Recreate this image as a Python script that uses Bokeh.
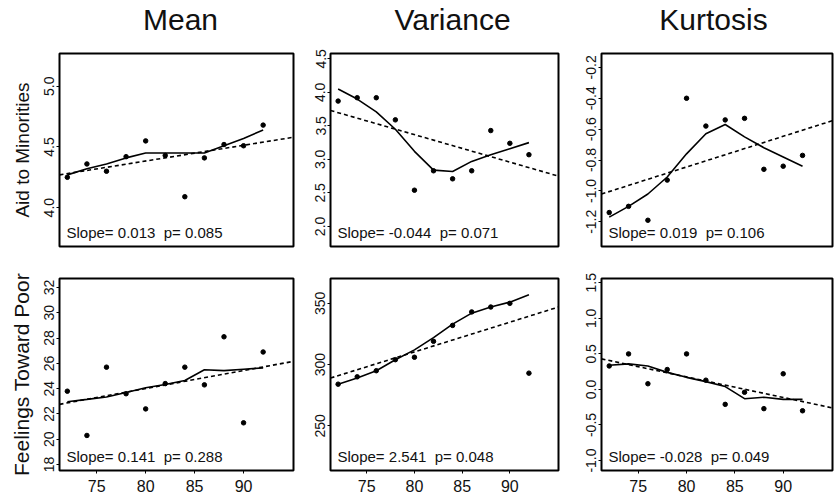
from bokeh.plotting import figure
from bokeh.layouts import column, row
from bokeh.models import Range1d, FixedTicker, PrintfTickFormatter, Label
from bokeh.embed import file_html
from bokeh.resources import INLINE
from bokeh.core.properties import value

# ---------------- data ----------------
years = [72, 74, 76, 78, 80, 82, 84, 86, 88, 90, 92]
col_titles = ["Mean", "Variance", "Kurtosis"]
row_titles = ["Aid to Minorities", "Feelings Toward Poor"]
x_ticks = [75, 80, 85, 90]
x_limits = [71.2, 95.1]

# Aid to Minorities
aid_mean = [4.25, 4.36, 4.30, 4.42, 4.55, 4.43, 4.09, 4.41, 4.52, 4.51, 4.68]
aid_mean_smooth = [4.27, 4.32, 4.36, 4.41, 4.45, 4.45, 4.45, 4.45, 4.51, 4.57, 4.64]
aid_mean_fit = [4.27, 4.58]
aid_var = [3.87, 3.92, 3.92, 3.59, 2.54, 2.83, 2.71, 2.83, 3.43, 3.24, 3.07]
aid_var_smooth = [4.05, 3.90, 3.71, 3.45, 3.12, 2.84, 2.82, 2.97, 3.07, 3.16, 3.25]
aid_var_fit = [3.73, 2.75]
aid_kurt = [-1.14, -1.10, -1.19, -0.93, -0.40, -0.58, -0.54, -0.53, -0.86, -0.84, -0.77]
aid_kurt_smooth = [-1.17, -1.10, -1.02, -0.91, -0.76, -0.63, -0.57, -0.65, -0.72, -0.78, -0.84]
aid_kurt_fit = [-1.02, -0.545]

# Feelings Toward Poor
poor_mean = [23.8, 20.3, 25.7, 23.6, 22.4, 24.4, 25.7, 24.3, 28.1, 21.3, 26.9]
poor_mean_smooth = [22.97, 23.15, 23.34, 23.70, 24.07, 24.33, 24.65, 25.50, 25.43, 25.54, 25.64]
poor_mean_fit = [22.76, 26.16]
poor_var = [284, 290, 295, 304, 306, 319, 332, 343, 347, 350, 293]
poor_var_smooth = [284, 289, 295, 304, 312, 322, 333, 342, 347, 351, 357]
poor_var_fit = [289, 347]
poor_kurt = [0.33, 0.50, 0.08, 0.28, 0.50, 0.13, -0.21, -0.04, -0.27, 0.22, -0.30]
poor_kurt_smooth = [0.34, 0.36, 0.33, 0.24, 0.17, 0.11, 0.04, -0.13, -0.11, -0.14, -0.14]
poor_kurt_fit = [0.43, -0.26]

stats = [
    ["Slope= 0.013 \u00a0p= 0.085", "Slope= -0.044 \u00a0p= 0.071", "Slope= 0.019 \u00a0p= 0.106"],
    ["Slope= 0.141 \u00a0p= 0.288", "Slope= 2.541 \u00a0p= 0.048", "Slope= -0.028 \u00a0p= 0.049"],
]

y_limits = [
    [[3.68, 5.27], [1.70, 4.58], [-1.36, -0.11]],
    [[17.53, 32.71], [213.5, 370.3], [-1.14, 1.56]],
]
y_ticks = [
    [[4.0, 4.5, 5.0], [2.0, 2.5, 3.0, 3.5, 4.0, 4.5], [-1.2, -1.0, -0.8, -0.6, -0.4, -0.2]],
    [[18, 20, 22, 24, 26, 28, 30, 32], [250, 300, 350], [-1.0, -0.5, 0.0, 0.5, 1.0, 1.5]],
]
y_formats = [["%.1f", "%.1f", "%.1f"], ["%d", "%d", "%.1f"]]

series = [
    [(aid_mean, aid_mean_smooth, aid_mean_fit),
     (aid_var, aid_var_smooth, aid_var_fit),
     (aid_kurt, aid_kurt_smooth, aid_kurt_fit)],
    [(poor_mean, poor_mean_smooth, poor_mean_fit),
     (poor_var, poor_var_smooth, poor_var_fit),
     (poor_kurt, poor_kurt_smooth, poor_kurt_fit)],
]

# ---------------- layout ----------------
FONT = "Liberation Sans"
col_w = [300, 265, 269]
col_left = [59, 30, 36]
col_right = [7, 7, 2]
row_h = [216, 236]
row_top = [7, 16]
row_bottom = [16, 28]
row_label_size = ["19px", "21px"]


def make_panel(r, c):
    vals, smooth, fit = series[r][c]
    p = figure(width=col_w[c], height=row_h[r], title=None,
               x_range=Range1d(*x_limits), y_range=Range1d(*y_limits[r][c]),
               output_backend="svg", toolbar_location=None,
               x_axis_location="below" if r == 1 else None,
               y_axis_location="left",
               min_border_left=col_left[c], min_border_right=col_right[c],
               min_border_top=row_top[r], min_border_bottom=row_bottom[r])
    p.grid.visible = False
    p.outline_line_color = "black"
    p.outline_line_width = 2
    p.outline_line_alpha = 1.0
    p.background_fill_color = "white"
    p.border_fill_color = "white"

    ya = p.yaxis[0]
    ya.ticker = FixedTicker(ticks=y_ticks[r][c])
    ya.formatter = PrintfTickFormatter(format=y_formats[r][c])
    ya.major_label_orientation = "vertical"
    ya.major_label_text_font = FONT
    ya.major_label_text_font_size = "14px"
    ya.major_label_text_color = "#111111"
    ya.major_label_standoff = 2
    ya.major_tick_out = 3
    ya.major_tick_in = 0
    ya.minor_tick_line_color = None
    ya.axis_line_color = "black"
    if c == 0:
        ya.axis_label = row_titles[r]
        ya.axis_label_text_font = FONT
        ya.axis_label_text_font_size = row_label_size[r]
        ya.axis_label_text_font_style = "normal"
        ya.axis_label_text_color = "#111111"
        ya.axis_label_standoff = 9

    if r == 1:
        xa = p.xaxis[0]
        xa.ticker = FixedTicker(ticks=x_ticks)
        xa.major_label_text_font = FONT
        xa.major_label_text_font_size = "16px"
        xa.major_label_text_color = "#111111"
        xa.major_label_standoff = 6
        xa.major_tick_out = 3
        xa.major_tick_in = 0
        xa.minor_tick_line_color = None
        xa.axis_line_color = "black"

    p.line(x_limits, fit, line_color="black", line_width=1.6, line_dash="4 3")
    p.line(years, smooth, line_color="black", line_width=1.6)
    p.scatter(years, vals, size=4.5, color="black")

    p.add_layout(Label(x=x_limits[0], y=y_limits[r][c][0], x_offset=7, y_offset=14,
                       text=stats[r][c], text_font=FONT, text_font_size="15px",
                       text_color="#111111", text_baseline="alphabetic"))
    return p


# title strip
tp = figure(width=834, height=46, title=None, x_range=Range1d(0, 834), y_range=Range1d(0, 46),
            output_backend="svg", toolbar_location=None,
            x_axis_location=None, y_axis_location=None,
            min_border_left=0, min_border_right=0, min_border_top=0, min_border_bottom=0)
tp.grid.visible = False
tp.outline_line_color = None
tp.border_fill_color = "white"
tp.text(x=[180, 452, 713], y=[27, 27, 27], text=col_titles,
        text_align="center", text_baseline="alphabetic",
        text_font=value(FONT), text_font_size="30px", text_color="#111111")

rows = [row(*[make_panel(r, c) for c in range(3)], spacing=0) for r in range(2)]
layout = column(tp, *rows, spacing=0)

open("out.html", "w").write(file_html(layout, INLINE))
